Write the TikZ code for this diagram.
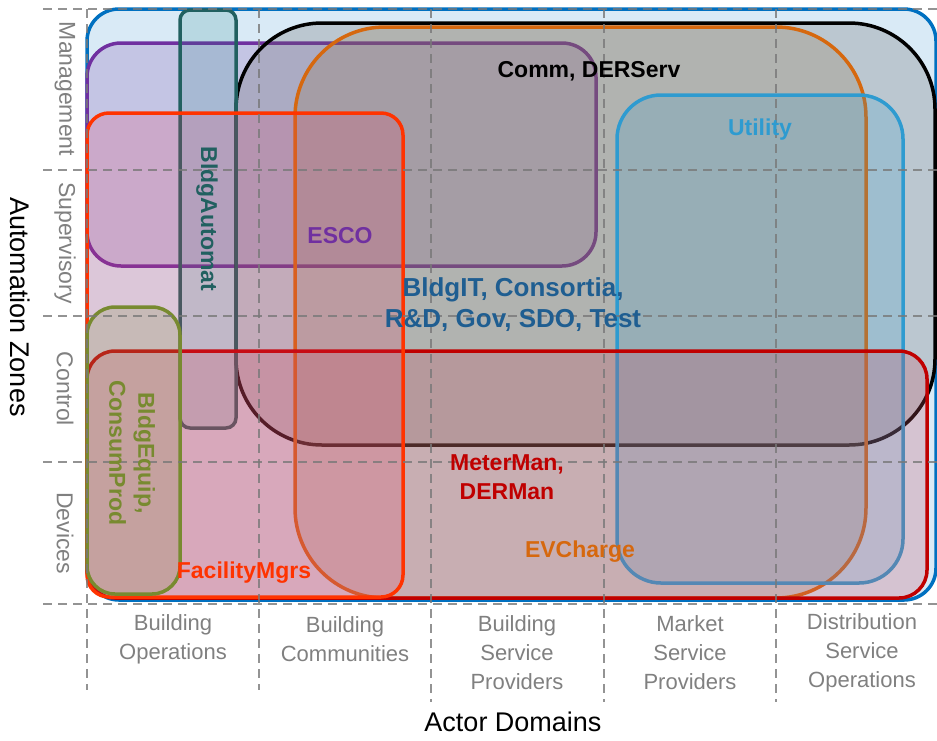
\documentclass[tikz,border=0pt]{standalone}
\usepackage{fontspec}
\setmainfont{Liberation Sans}
\definecolor{outerblue}{RGB}{0,112,192}
\definecolor{itblue}{RGB}{31,94,145}
\definecolor{escopurple}{RGB}{112,48,160}
\definecolor{automteal}{RGB}{33,96,96}
\definecolor{evorange}{RGB}{214,104,14}
\definecolor{evfill}{RGB}{150,120,80}
\definecolor{facred}{RGB}{255,51,0}
\definecolor{facfill}{RGB}{230,60,100}
\definecolor{utilcyan}{RGB}{46,155,208}
\definecolor{meterred}{RGB}{192,0,0}
\definecolor{meterfill}{RGB}{200,80,100}
\definecolor{equipolive}{RGB}{120,138,48}
\definecolor{gridgray}{RGB}{120,120,120}
\definecolor{labelgray}{RGB}{128,128,128}

\begin{document}
\begin{tikzpicture}[x=1pt,y=-1pt,
	zone/.style={line width=3.5pt},
	gridline/.style={draw=gridgray, line width=1.3pt, dash pattern=on 9pt off 6pt, opacity=0.8},
	zonetext/.style={text=labelgray, font=\fontsize{23}{29}\selectfont},
	domaintext/.style={text=labelgray, font=\fontsize{22}{29}\selectfont, align=center},
	grouptext/.style={font=\fontsize{23}{29}\selectfont\bfseries, align=center}]
	\useasboundingbox (0,0) rectangle (937,740);
	% groups, back to front
	\draw[zone, draw=outerblue, fill=outerblue, fill opacity=0.15, rounded corners=32pt] (87,9) rectangle (936,600);
	\draw[zone, draw=escopurple, fill=escopurple, fill opacity=0.2, rounded corners=34pt] (87,43) rectangle (596,266);
	\draw[zone, draw=black, fill=gray!75!black, fill opacity=0.25, rounded corners=86pt] (236,23) rectangle (935,445);
	\draw[zone, draw=evorange, fill=evfill, fill opacity=0.25, rounded corners=90pt] (295,27) rectangle (866,598);
	\draw[zone, draw=utilcyan, fill=utilcyan, fill opacity=0.2, rounded corners=44pt] (617,95) rectangle (903,583);
	\draw[zone, draw=automteal, fill=automteal!80!cyan, fill opacity=0.17, rounded corners=10pt] (180,10) rectangle (236,428);
	\draw[zone, draw=meterred, fill=meterfill, fill opacity=0.25, rounded corners=28pt] (87,351) rectangle (927,598);
	\draw[zone, draw=facred, fill=facfill, fill opacity=0.2, rounded corners=22pt] (87,113) rectangle (403,597);
	\draw[zone, draw=equipolive, fill=equipolive, fill opacity=0.2, rounded corners=28pt] (87,307) rectangle (180,594);
	% grid
	\draw[gridline] (43,9) -- (937,9);
	\draw[gridline] (43,170) -- (937,170);
	\draw[gridline] (43,316) -- (937,316);
	\draw[gridline] (43,462) -- (937,462);
	\draw[gridline] (43,604) -- (937,604);
	\draw[gridline] (87,9) -- (87,690);
	\draw[gridline] (259,9) -- (259,690);
	\draw[gridline] (431,9) -- (431,702);
	\draw[gridline] (604,9) -- (604,702);
	\draw[gridline] (776,9) -- (776,702);
	% group labels
	\node[grouptext] (comm) at (589,71) {Comm, DERServ};
	\node[grouptext, text=utilcyan] (utility) at (760,130) {Utility};
	\node[grouptext, text=escopurple] (esco) at (340,236) {ESCO};
	\node[grouptext, text=itblue, font=\fontsize{26}{31}\selectfont\bfseries] (bldgit) at (513,305) {BldgIT, Consortia,\\R\&D, Gov, SDO, Test};
	\node[grouptext, text=automteal, rotate=-90] (automat) at (207,219) {BldgAutomat};
	\node[grouptext, text=equipolive, rotate=-90] (equip) at (132,453) {BldgEquip,\\ConsumProd};
	\node[grouptext, text=facred] (facility) at (244,573) {FacilityMgrs};
	\node[grouptext, text=meterred] (meterman) at (507,477) {MeterMan,\\DERMan};
	\node[grouptext, text=evorange] (evcharge) at (580,552) {EVCharge};
	% zones
	\node[zonetext, rotate=-90] (mgmt) at (65,89) {Management};
	\node[zonetext, rotate=-90] (superv) at (65,243) {Supervisory};
	\node[zonetext, rotate=-90] (ctrl) at (65,389) {Control};
	\node[zonetext, rotate=-90] (devices) at (65,533) {Devices};
	\node[rotate=-90, font=\fontsize{27}{30}\selectfont] (zones) at (20,307) {Automation Zones};
	% domains
	\node[domaintext] (bops) at (173,639) {Building\\Operations};
	\node[domaintext] (bcomm) at (345,639) {Building\\Communities};
	\node[domaintext] (bsp) at (517,653) {Building\\Service\\Providers};
	\node[domaintext] (msp) at (690,653) {Market\\Service\\Providers};
	\node[domaintext] (dso) at (862,653) {Distribution\\Service\\Operations};
	\node[font=\fontsize{27}{30}\selectfont] (domains) at (513,722) {Actor Domains};
\end{tikzpicture}
\end{document}
